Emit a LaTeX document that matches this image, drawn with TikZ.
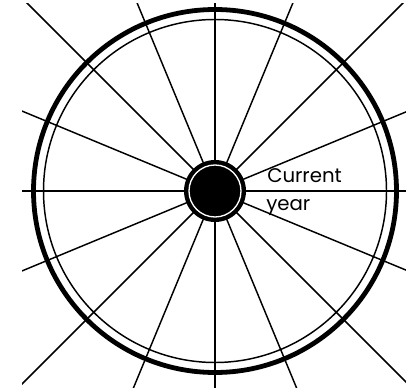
\documentclass[tikz,border=0pt]{standalone}
\usepackage{fontspec}
\newfontfamily\yearfont{Poppins}
\usepackage{xcolor}
\usepackage{tikz}
\definecolor{inkblack}{HTML}{000000}
\tikzset{
  rim/.style={draw=inkblack, line width=3.6pt},
  innerrim/.style={draw=inkblack, line width=1.1pt},
  spoke/.style={draw=inkblack, line width=1.1pt},
  hubdisk/.style={circle, fill=inkblack, minimum size=46.5pt, inner sep=0pt},
  hubgap/.style={draw=white, line width=1.0pt},
  yearlabel/.style={font=\yearfont\fontsize{14.8}{17}\selectfont, inner sep=0pt, anchor=base west}
}

\begin{document}
\begin{tikzpicture}[x=0.75pt,y=-0.75pt]
  \useasboundingbox (0,0) rectangle (406,388);

  \coordinate (centre) at (215,191);

  % spokes, cut off at the frame
  \begin{scope}
    \clip (22,4) rectangle (406,388);
    \foreach \a in {0,22.5,...,337.5}
      \draw[spoke] (centre) -- ++(\a:300);
  \end{scope}

  % wheel rims
  \draw[rim] (centre) circle[radius=181.5];
  \draw[innerrim] (centre) circle[radius=171.5];

  % hub
  \node[hubdisk] (hub) at (centre) {};
  \draw[hubgap] (hub.center) circle[radius=26];

  \node[yearlabel] (current) at (267,182) {Current};
  \node[yearlabel] (year) at (266,210) {year};
\end{tikzpicture}
\end{document}
